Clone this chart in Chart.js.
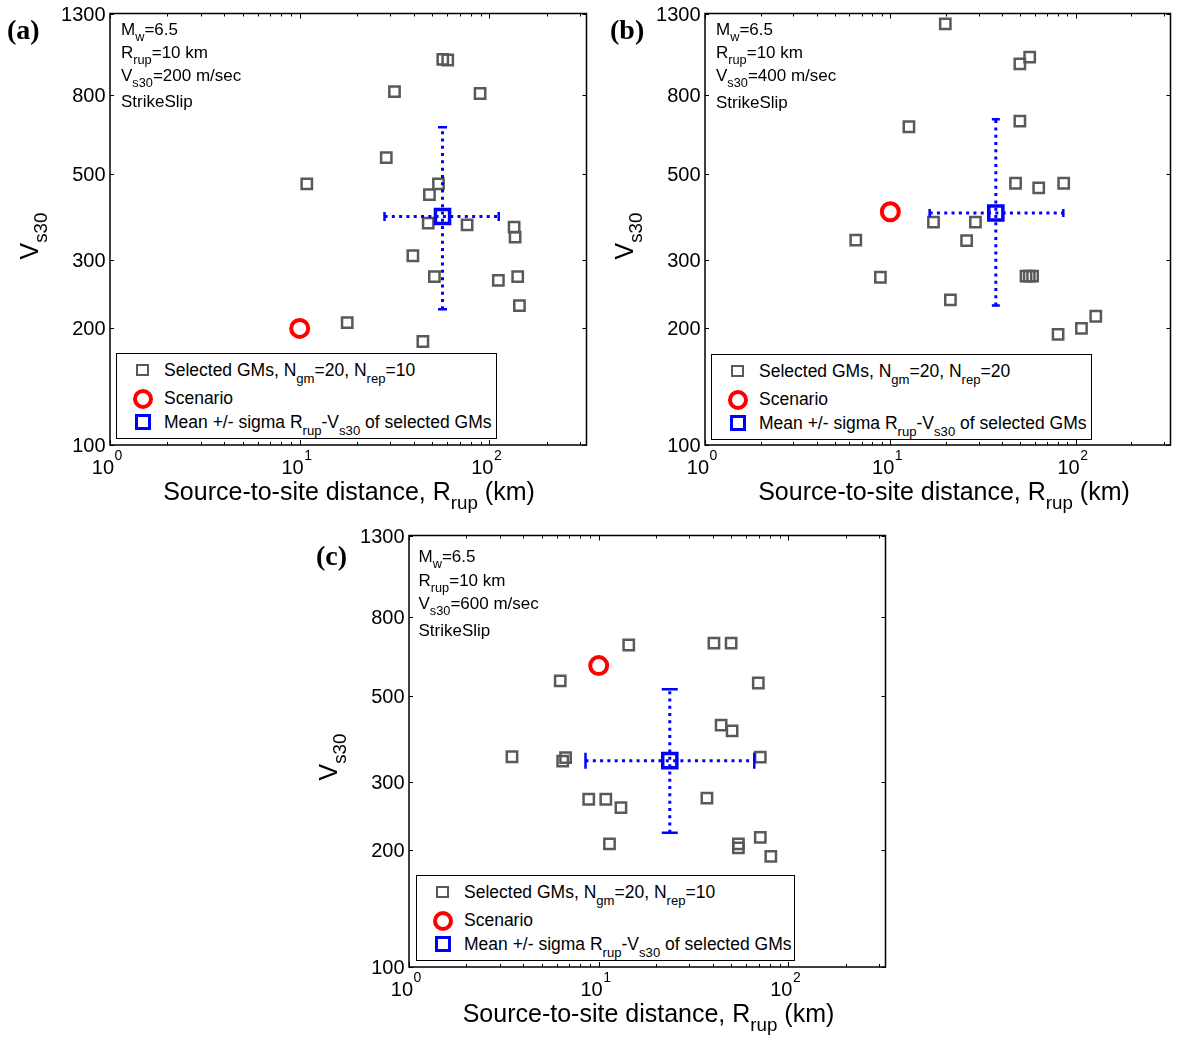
<!DOCTYPE html>
<html>
<head>
<meta charset="utf-8">
<title>Selected ground motions: Rrup vs Vs30</title>
<script src="https://cdn.jsdelivr.net/npm/chart.js"></script>
<style>
  body { margin: 0; background: #fff; font-family: Arial, "Liberation Sans", sans-serif; }
  #page { position: relative; width: 1184px; height: 1042px; overflow: hidden; }
  canvas { position: absolute; }
  .txt { position: absolute; white-space: nowrap; color: #000; }
  .txt sub { font-size: 0.75em; vertical-align: -0.5em; line-height: 0; }
  .info { font-size: 17px; line-height: 17px; }
  .axt { font-size: 25px; line-height: 24px; }
  .ytitle { transform: translate(-50%, -50%) rotate(-90deg); }
  .tag { font-family: "Liberation Serif", "Times New Roman", serif; font-weight: bold; font-size: 28px; line-height: 28px; }
  .legend { position: absolute; border: 1px solid #000; background: #fff; box-sizing: border-box; }
  .legend .txt { left: 47px; font-size: 17.5px; line-height: 17px; }
  .sym { position: absolute; box-sizing: border-box; }
</style>
</head>
<body>
<div id="page">
  <canvas id="chartA" width="600" height="520" style="left:0;top:0"></canvas>
  <canvas id="chartB" width="589" height="520" style="left:595px;top:0"></canvas>
  <canvas id="chartC" width="600" height="520" style="left:299px;top:522px"></canvas>
</div>

<script>
  // axis ticks
  const yTickValues = [100, 200, 300, 500, 800, 1300];
  const xDecadeTicks = [1, 10, 100];
  const xMinorTicks = [2, 3, 4, 5, 6, 7, 8, 9, 20, 30, 40, 50, 60, 70, 80, 90, 200, 300];

  // scenario (Rrup km, Vs30 m/s) and selection counts for panels a, b, c
  const scenarioRrup = [10, 10, 10];
  const scenarioVs30 = [200, 400, 600];
  const nGm = [20, 20, 20];
  const nRep = [10, 20, 10];

  // (a) selected ground motions
  const gmRrupA = [56.8, 60.3, 31.6, 89.3, 28.6, 10.9, 53.9, 48.3, 47.6, 76.3, 135, 136.6, 39.5, 51.3, 111.5, 141, 144, 17.8, 44.6];
  const gmVs30A = [990, 986, 817, 808, 552, 472, 472, 443, 374, 370, 365, 344, 308, 272, 266, 272, 229, 207, 185];
  const meanA = [56.6, 389];
  const rrupRangeA = [28.0, 112];
  const vs30RangeA = [224, 661];

  // (b)
  const gmRrupB = [19.8, 56.5, 50.0, 12.6, 50.0, 47.4, 63.2, 86.2, 17.1, 28.8, 6.51, 25.8, 8.84, 54.0, 56.2, 58.6, 21.1, 80.4, 107.5, 128.4];
  const gmVs30B = [1222, 1003, 964, 663, 686, 474, 461, 474, 376, 376, 338, 337, 271, 273, 273, 273, 237, 193, 200, 215];
  const meanB = [37.1, 397];
  const rrupRangeB = [16.3, 85.8];
  const vs30RangeB = [229, 693];

  // (c)
  const gmRrupC = [3.49, 6.27, 14.4, 40.5, 49.9, 69.4, 44.2, 50.5, 71.1, 6.69, 6.46, 8.86, 10.9, 13.1, 37.2, 11.4, 54.5, 54.5, 71.1, 80.8];
  const gmVs30C = [349, 548, 678, 686, 686, 541, 421, 407, 348, 347, 340, 271, 271, 258, 273, 208, 208, 203, 216, 193];
  const meanC = [23.7, 341];
  const rrupRangeC = [8.52, 66.1];
  const vs30RangeC = [222, 521];

  const panels = [
    { canvas: 'chartA', pad: { left: 110, top: 12, right: 12, bottom: 75 }, rrup: gmRrupA, vs30: gmVs30A,
      mean: meanA, rr: rrupRangeA, vr: vs30RangeA, cap: 4.5, i: 0, tag: '(a)',
      tagAt: [7, 16], infoLeft: 121, infoBase: [35.5, 58, 81, 107], legend: [116, 353, 381, 86],
      xTitle: [349, 499.5], yTitle: [28.7, 235.5] },
    { canvas: 'chartB', pad: { left: 110, top: 12, right: 1, bottom: 75 }, rrup: gmRrupB, vs30: gmVs30B,
      mean: meanB, rr: rrupRangeB, vr: vs30RangeB, cap: 4, i: 1, tag: '(b)',
      tagAt: [610, 16], infoLeft: 716, infoBase: [35.5, 58, 81, 108], legend: [711, 354, 381, 86],
      xTitle: [944, 499.5], yTitle: [624, 235.5] },
    { canvas: 'chartC', pad: { left: 110, top: 12, right: 11, bottom: 75 }, rrup: gmRrupC, vs30: gmVs30C,
      mean: meanC, rr: rrupRangeC, vr: vs30RangeC, cap: 8, i: 2, tag: '(c)',
      tagAt: [316, 542], infoLeft: 418.5, infoBase: [562.5, 586, 609, 636.5], legend: [416, 875, 379, 86],
      xTitle: [648.5, 1021], yTitle: [328, 757] }
  ];

  // frame, inward ticks and tick labels, all placed through the chart scales
  const axisFrame = {
    id: 'axisFrame',
    afterDraw(chart) {
      const { ctx, chartArea: a } = chart;
      const x = chart.scales.x, y = chart.scales.y;
      ctx.save();
      ctx.strokeStyle = '#000';
      ctx.lineWidth = 1;
      ctx.beginPath();
      xMinorTicks.forEach(v => {
        const px = Math.round(x.getPixelForValue(v)) + 0.5;
        ctx.moveTo(px, a.bottom); ctx.lineTo(px, a.bottom - 3);
        ctx.moveTo(px, a.top); ctx.lineTo(px, a.top + 3);
      });
      xDecadeTicks.forEach(v => {
        const px = Math.round(x.getPixelForValue(v)) + 0.5;
        ctx.moveTo(px, a.bottom); ctx.lineTo(px, a.bottom - 5);
        ctx.moveTo(px, a.top); ctx.lineTo(px, a.top + 5);
      });
      yTickValues.forEach(v => {
        const py = Math.round(y.getPixelForValue(v)) + 0.5;
        ctx.moveTo(a.left, py); ctx.lineTo(a.left + 4, py);
        ctx.moveTo(a.right, py); ctx.lineTo(a.right - 4, py);
      });
      ctx.stroke();
      ctx.lineWidth = 1.5;
      ctx.strokeRect(a.left, a.top, a.right - a.left, a.bottom - a.top);

      ctx.fillStyle = '#000';
      ctx.font = '20px Arial';
      ctx.textAlign = 'right';
      ctx.textBaseline = 'alphabetic';
      yTickValues.forEach(v => ctx.fillText(String(v), a.left - 4.5, y.getPixelForValue(v) + 7));
      xDecadeTicks.forEach(v => {
        const px = x.getPixelForValue(v);
        ctx.font = '20px Arial';
        ctx.textAlign = 'right';
        ctx.fillText('10', px + 4, a.bottom + 28.5);
        ctx.font = '14px Arial';
        ctx.textAlign = 'left';
        ctx.fillText(String(Math.round(Math.log10(v))), px + 4.5, a.bottom + 14.5);
      });
      ctx.restore();
    }
  };

  function makeChart(p) {
    const pts = p.rrup.map((r, k) => ({ x: r, y: p.vs30[k] }));
    return new Chart(document.getElementById(p.canvas), {
      type: 'scatter',
      data: {
        datasets: [
          { label: 'Scenario', data: [{ x: scenarioRrup[p.i], y: scenarioVs30[p.i] }],
            pointStyle: 'circle', pointRadius: 8.5, pointBorderWidth: 4,
            pointBorderColor: '#ff0000', pointBackgroundColor: 'rgba(0,0,0,0)' },
          { label: 'Mean', data: [{ x: p.mean[0], y: p.mean[1] }],
            pointStyle: 'rect', pointRadius: 10, pointBorderWidth: 3.5,
            pointBorderColor: '#0000ff', pointBackgroundColor: 'rgba(0,0,0,0)' },
          { label: 'Rrup sigma', data: [{ x: p.rr[0], y: p.mean[1] }, { x: p.rr[1], y: p.mean[1] }],
            showLine: true, borderColor: '#0000ff', borderWidth: 3, borderDash: [3, 4.3],
            pointStyle: 'line', pointRotation: 90, pointRadius: p.cap, pointBorderWidth: 2.5,
            pointBorderColor: '#0000ff' },
          { label: 'Vs30 sigma', data: [{ x: p.mean[0], y: p.vr[0] }, { x: p.mean[0], y: p.vr[1] }],
            showLine: true, borderColor: '#0000ff', borderWidth: 3, borderDash: [3, 4.3],
            pointStyle: 'line', pointRotation: 0, pointRadius: p.cap, pointBorderWidth: 2.5,
            pointBorderColor: '#0000ff' },
          { label: 'Selected GMs', data: pts,
            pointStyle: 'rect', pointRadius: 7.3, pointBorderWidth: 2.5,
            pointBorderColor: '#595959', pointBackgroundColor: 'rgba(0,0,0,0)' }
        ]
      },
      options: {
        responsive: false,
        animation: false,
        devicePixelRatio: 1,
        events: [],
        layout: { padding: p.pad },
        plugins: { legend: { display: false }, tooltip: { enabled: false } },
        scales: {
          x: { type: 'logarithmic', min: 1, max: 325, display: false },
          y: { type: 'logarithmic', min: 100, max: 1300, display: false }
        }
      },
      plugins: [axisFrame]
    });
  }

  function addText(cls, html, left, top, style) {
    const d = document.createElement('div');
    d.className = 'txt ' + cls;
    d.innerHTML = html;
    d.style.left = left + 'px';
    d.style.top = top + 'px';
    if (style) Object.assign(d.style, style);
    document.getElementById('page').appendChild(d);
    return d;
  }

  function addLegend(p) {
    const [lx, ly, lw, lh] = p.legend;
    const box = document.createElement('div');
    box.className = 'legend';
    Object.assign(box.style, { left: lx + 'px', top: ly + 'px', width: lw + 'px', height: lh + 'px' });
    const rows = [
      { y: 16, html: 'Selected GMs, N<sub>gm</sub>=' + nGm[p.i] + ', N<sub>rep</sub>=' + nRep[p.i],
        sym: { w: 12.5, b: '2.5px solid #595959', r: '0' } },
      { y: 44.5, html: 'Scenario', sym: { w: 20, b: '4px solid #ff0000', r: '50%' } },
      { y: 68, html: 'Mean +/- sigma R<sub>rup</sub>-V<sub>s30</sub> of selected GMs',
        sym: { w: 16, b: '3.5px solid #0000ff', r: '0' } }
    ];
    rows.forEach(r => {
      const s = document.createElement('div');
      s.className = 'sym';
      Object.assign(s.style, { left: (25.5 - r.sym.w / 2) + 'px', top: (r.y - r.sym.w / 2) + 'px',
        width: r.sym.w + 'px', height: r.sym.w + 'px', border: r.sym.b, borderRadius: r.sym.r });
      box.appendChild(s);
      const t = document.createElement('div');
      t.className = 'txt';
      t.innerHTML = r.html;
      t.style.top = (r.y - 8.5) + 'px';
      box.appendChild(t);
    });
    document.getElementById('page').appendChild(box);
  }

  panels.forEach(p => {
    makeChart(p);
    addText('tag', p.tag, p.tagAt[0], p.tagAt[1]);
    const info = ['M<sub>w</sub>=6.5', 'R<sub>rup</sub>=' + scenarioRrup[p.i] + ' km',
      'V<sub>s30</sub>=' + scenarioVs30[p.i] + ' m/sec', 'StrikeSlip'];
    info.forEach((h, k) => addText('info', h, p.infoLeft, p.infoBase[k] - 14.4));
    addLegend(p);
    addText('axt', 'Source-to-site distance, R<sub>rup</sub> (km)', p.xTitle[0] - 250, p.xTitle[1] - 20.3,
      { width: '500px', textAlign: 'center' });
    addText('axt ytitle', 'V<sub>s30</sub>', p.yTitle[0], p.yTitle[1]);
  });
</script>
</body>
</html>
